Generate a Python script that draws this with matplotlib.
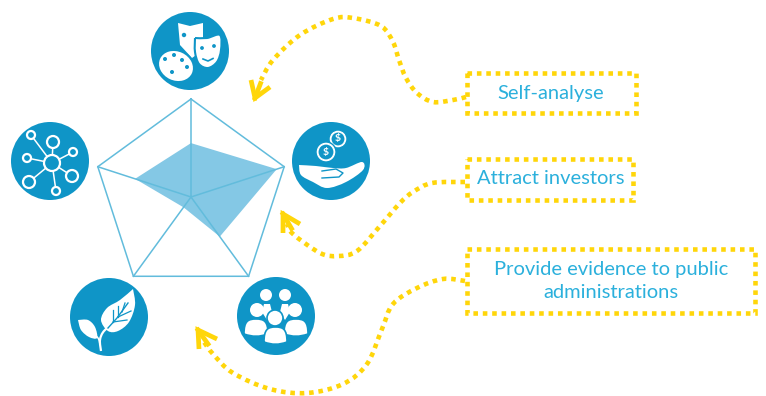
#!/usr/bin/env python3
"""Radar chart with five icons and three dotted yellow call-outs"""

import matplotlib
matplotlib.use("Agg")
import matplotlib.pyplot as plt
import numpy as np
from matplotlib.patches import Circle, Ellipse, PathPatch, Polygon
from matplotlib.path import Path

# Radar values, clockwise from the top, outer ring = 1
axes_names = ['culture', 'economy', 'society', 'environment', 'network']
scores = [0.55, 0.92, 0.50, 0.13, 0.60]

labels = ['Self-analyse', 'Attract investors',
          'Provide evidence to public', 'administrations']

BLUE = '#0f95c7'
FILL = '#84c8e5'
LINE = '#62bcdc'
YELLOW = '#ffd60a'
TEXT = '#2bb0dc'

plt.rcParams['font.family'] = ['Lato', 'DejaVu Sans']

fig = plt.figure(figsize=(7.66, 3.96), dpi=100)
ax = fig.add_axes([0, 0, 1, 1])
ax.set_xlim(0, 766)
ax.set_ylim(396, 0)
ax.axis('off')

# radar in its own polar axes
W, H = 766, 396
cx, cy, R = 191, 197, 98
pax = fig.add_axes([(cx-R)/W, 1-(cy+R)/H, 2*R/W, 2*R/H], projection='polar')
pax.set_theta_offset(np.pi/2)
pax.set_theta_direction(-1)
pax.set_ylim(0, 1)
pax.axis('off')
theta = np.arange(len(scores))*2*np.pi/len(scores)
pax.fill(theta, scores, color=FILL, lw=0)
ring_t = np.append(theta, theta[0])
pax.plot(ring_t, np.ones(len(ring_t)), color=LINE, lw=1.1, clip_on=False)
for t in theta:
    pax.plot([t, t], [0, 1], color=LINE, lw=1.1, clip_on=False)


def smooth(pts):
    """Catmull-Rom through pts, as a bezier Path."""
    pts = np.array(pts, dtype=float)
    p = np.vstack([pts[0], pts, pts[-1]])
    verts = [pts[0]]
    codes = [Path.MOVETO]
    for i in range(1, len(p)-2):
        verts += [p[i]+(p[i+1]-p[i-1])/6, p[i+1]-(p[i+2]-p[i])/6, p[i+1]]
        codes += [Path.CURVE4]*3
    return Path(verts, codes)


def shape(pts, color='white', z=3, ec=None, lw=0):
    ax.add_patch(PathPatch(smooth(pts + [pts[0]]), fc=color, ec=ec or color, lw=lw, zorder=z))


def dots(path, z=2):
    ax.add_patch(PathPatch(path, fc='none', ec=YELLOW, lw=3.3, zorder=z,
                           linestyle=(0, (1.0, 1.05)), capstyle='butt'))


# dotted curves and arrow heads
curve1 = [(466, 97), (453, 100), (433, 102), (417, 93), (406, 78), (399, 60), (393, 42),
          (381, 26), (353, 18), (333, 19), (300, 35), (273, 60), (261, 80)]
curve2 = [(465, 182), (432, 183), (413, 192), (400, 203), (380, 226), (357, 251),
          (338, 256), (320, 253), (293, 234), (287, 224)]
curve3 = [(465, 281), (443, 279), (417, 288), (393, 304), (382, 329), (367, 364),
          (343, 384), (307, 393), (270, 389), (233, 373), (213, 354), (204, 342)]
heads = [[(251, 80), (255, 98), (270, 87)],
         [(283, 233), (283, 214), (300, 224)],
         [(199, 349), (198, 330), (217, 339)]]
for c in [curve1, curve2, curve3]:
    dots(smooth(c))
for h in heads:
    ax.plot(*zip(*h), color=YELLOW, lw=3.4, solid_capstyle='butt', solid_joinstyle='miter', zorder=2)
    ax.plot([h[1][0], (h[0][0]+h[2][0])/2],
            [h[1][1], (h[0][1]+h[2][1])/2],
            color=YELLOW, lw=3.4, zorder=2)

# call-out boxes
boxes = [(467, 73, 636, 113), (467, 159, 633, 200), (467, 249, 755, 313)]
for x0, y0, x1, y1 in boxes:
    dots(Path([(x0, y0), (x1, y0), (x1, y1), (x0, y1), (x0, y0)]))

ax.text(551, 93, labels[0], color=TEXT, fontsize=14.5, ha='center', va='center')
ax.text(551, 178, labels[1], color=TEXT, fontsize=14.5, ha='center', va='center')
ax.text(611, 269, labels[2], color=TEXT, fontsize=14.5, ha='center', va='center')
ax.text(611, 293, labels[3], color=TEXT, fontsize=14.5, ha='center', va='center')

# icon discs
for x, y in [(190, 51), (331, 161), (276, 316), (109, 317), (50, 161)]:
    ax.add_patch(Circle((x, y), 39, fc=BLUE, ec='none', zorder=2))

# masks and palette
ax.add_patch(Polygon([(178, 23), (190, 26), (203, 23), (203, 50), (192, 58), (180, 45)],
                     fc='white', ec='none', zorder=3))
ax.add_patch(Circle((184, 35), 2.2, fc=BLUE, ec='none', zorder=4))
shape([(195, 38), (207, 38), (220, 35), (221, 50), (217, 62), (208, 68), (199, 64), (195, 52)],
      ec=BLUE, lw=1.5, z=4)
for x, y in [(202, 48), (214, 46)]:
    ax.add_patch(Circle((x, y), 1.9, fc=BLUE, ec='none', zorder=5))
ax.plot([203, 208, 213], [59, 61, 58.5], color=BLUE, lw=1.2, zorder=5)
ax.add_patch(Ellipse((176, 66), 37, 31, angle=25, fc='white', ec=BLUE, lw=1.5, zorder=5))
for x, y in [(165, 59), (174, 55), (182, 60), (187, 67), (172, 72)]:
    ax.add_patch(Circle((x, y), 2, fc=BLUE, ec='none', zorder=6))

# coins in the hand
for x, y, r in [(338, 139, 9), (326, 152, 10)]:
    ax.add_patch(Circle((x, y), r, fc='white', ec=BLUE, lw=1, zorder=3))
    ax.add_patch(Circle((x, y), r-2, fc=BLUE, ec='white', lw=0.8, zorder=3))
    ax.text(x, y, '$', color='white', fontsize=7.5, fontweight='bold', ha='center', va='center', zorder=4)
shape([(299, 165), (316, 166), (333, 168), (346, 168), (362, 162), (363, 170), (346, 182),
       (327, 188), (313, 182), (301, 175)])
ax.plot([322, 336, 343, 339, 322], [171, 169, 173, 177, 178], color=BLUE, lw=1, zorder=4)

# network
hub = (52, 163)
nodes = [(31, 135, 4), (53, 142, 6), (73, 152, 4), (27, 158, 4), (72, 176, 6), (29, 182, 6), (56, 191, 4)]
for x, y, r in nodes:
    ax.plot([hub[0], x], [hub[1], y], color='white', lw=1.1, zorder=3)
for x, y, r in nodes + [(hub[0], hub[1], 8)]:
    ax.add_patch(Circle((x, y), r, fc=BLUE, ec='white', lw=1.6, zorder=4))

# people
for x, y, r in [(266, 295, 6), (285, 295, 6), (257, 310, 7), (295, 310, 7)]:
    ax.add_patch(Circle((x, y), r, fc='white', ec='none', zorder=4))
for x0, x1 in [(262, 272), (280, 290)]:
    ax.add_patch(Polygon([(x0, 312), (x0+2, 304), (x1-2, 304), (x1, 312), ((x0+x1)/2, 320)],
                         fc='white', ec='none', zorder=3))


def body(x0, x1, y0, y1, z):
    """Dome with a slightly rounded foot."""
    verts = [(x0, y1-2), (x0, y0+2), (x0+4, y0), ((x0+x1)/2, y0), (x1-4, y0), (x1, y0+2), (x1, y1-2),
             ((x0+x1)/2+3, y1+1), ((x0+x1)/2-3, y1+1), (x0, y1-2)]
    codes = [Path.MOVETO] + [Path.CURVE4]*9
    ax.add_patch(PathPatch(Path(verts, codes), fc='white', ec=BLUE, lw=1.2, zorder=z))


body(244, 268, 319, 336, 5)
body(284, 308, 319, 336, 5)
ax.add_patch(Circle((275, 318), 8, fc='white', ec=BLUE, lw=1.2, zorder=6))
body(264, 287, 327, 344, 6)

# leaves
shape([(133, 289), (135, 305), (129, 322), (118, 331), (108, 331), (101, 320), (107, 308), (120, 300)])
shape([(78, 320), (88, 320), (95, 327), (97, 338), (89, 337), (81, 330)])
ax.add_patch(PathPatch(smooth([(101, 351), (100, 340), (104, 331), (115, 322)]), fc='none', ec='white', lw=1.6, zorder=4))
ax.add_patch(PathPatch(smooth([(100, 345), (98, 338), (90, 330)]), fc='none', ec='white', lw=1.1, zorder=4))
ax.plot([108, 117, 128], [328, 318, 303], color=BLUE, lw=1, zorder=5)
for a, b in [((113, 322), (113, 310)), ((118, 317), (118, 306)), ((122, 312), (125, 303)),
             ((113, 322), (127, 320)), ((118, 317), (131, 311))]:
    ax.plot(*zip(a, b), color=BLUE, lw=0.9, zorder=5)

fig.savefig('out.png', dpi=100)
